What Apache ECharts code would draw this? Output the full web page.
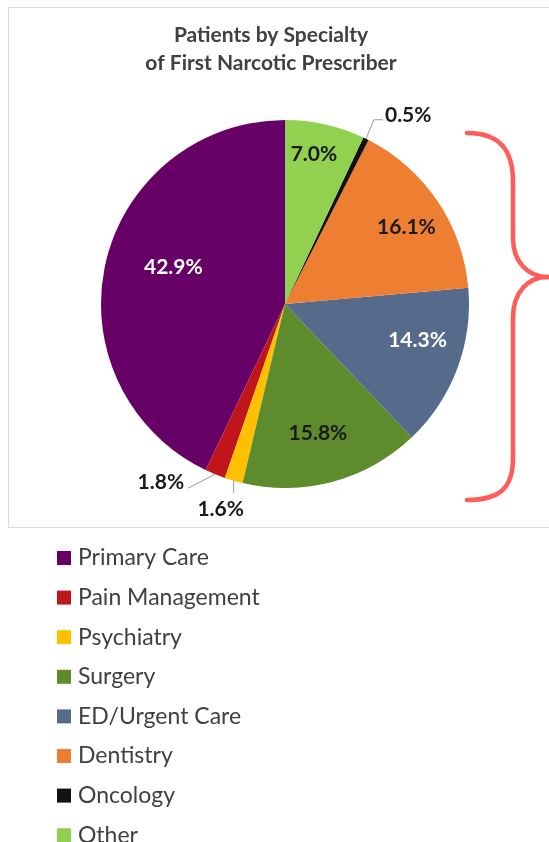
<!DOCTYPE html>
<html>
<head>
<meta charset="utf-8">
<script src="https://cdn.jsdelivr.net/npm/echarts@6/dist/echarts.min.js"></script>
<style>
  html, body { margin: 0; padding: 0; background: #ffffff; }
  #chart { width: 549px; height: 842px; }
</style>
</head>
<body>
<div id="chart"></div>
<script>
// Share of patients (%) by specialty of the first narcotic prescriber
const specialties = ['Primary Care', 'Pain Management', 'Psychiatry', 'Surgery',
                     'ED/Urgent Care', 'Dentistry', 'Oncology', 'Other'];
const shares = [42.9, 1.8, 1.6, 15.8, 14.3, 16.1, 0.5, 7.0];
const sliceColors = ['#660066', '#C0161B', '#FFC000', '#5E8B2B',
                     '#566A8C', '#EE7E32', '#111111', '#92D050'];
const titleLines = ['Patients by Specialty', 'of First Narcotic Prescriber'];

// pie geometry
const CX = 285, CY = 304, R = 184;

// slices laid out counter-clockwise from 12 o'clock; mid angle of each slice
const total = shares.reduce((a, b) => a + b, 0);
const midAngle = [];
let cum = 0;
shares.forEach(v => {
  midAngle.push((90 + (cum + v / 2) / total * 360) * Math.PI / 180);
  cum += v;
});

// thin slices get a callout outside the pie
const callouts = {
  'Pain Management': { line: [[-27, 14]], label: [-31, 8], align: 'right' },
  'Psychiatry':      { line: [[0, 12]], label: [-13, 29], align: 'center' },
  'Oncology':        { line: [[8, -19], [17, -19]], label: [19, -24], align: 'left' }
};
// inside labels: radial position (fraction of radius) plus a small best-fit nudge
const insideLabel = {
  'Primary Care':   { k: 0.6,  dx: -4, dy: -12 },
  'Surgery':        { k: 0.77, dx: -4, dy: -8 },
  'ED/Urgent Care': { k: 0.77, dx: 0,  dy: -14 },
  'Dentistry':      { k: 0.77, dx: 4,  dy: 3 },
  'Other':          { k: 0.77, dx: -2, dy: -11 }
};
const lightLabels = new Set(['Primary Care', 'ED/Urgent Care']);

// curly brace grouping the right-hand slices
const braceStyle = { fill: 'none', stroke: '#FF5B57', lineWidth: 4.5, lineCap: 'round' };
const brace = [
  { type: 'bezierCurve', shape: { x1: 467, y1: 133, cpx1: 500, cpy1: 133, cpx2: 513, cpy2: 150, x2: 513, y2: 182 } },
  { type: 'line',        shape: { x1: 513, y1: 182, x2: 513, y2: 238 } },
  { type: 'bezierCurve', shape: { x1: 513, y1: 238, cpx1: 513, cpy1: 262, cpx2: 528, cpy2: 277, x2: 548, y2: 277 } },
  { type: 'bezierCurve', shape: { x1: 548, y1: 277, cpx1: 528, cpy1: 277, cpx2: 513, cpy2: 292, x2: 513, y2: 318 } },
  { type: 'line',        shape: { x1: 513, y1: 318, x2: 513, y2: 458 } },
  { type: 'bezierCurve', shape: { x1: 513, y1: 458, cpx1: 513, cpy1: 488, cpx2: 500, cpy2: 500, x2: 467, y2: 500 } }
].map(el => Object.assign(el, { z: 10, style: braceStyle }));

const chart = echarts.init(document.getElementById('chart'), null, { renderer: 'canvas' });

chart.setOption({
  animation: false,
  backgroundColor: '#ffffff',
  title: {
    text: titleLines.join('\n'),
    left: 266,
    top: 16,
    textAlign: 'center',
    textStyle: {
      fontFamily: 'Lato',
      fontWeight: 'bold',
      fontSize: 21,
      lineHeight: 28,
      color: '#404040'
    }
  },
  legend: {
    orient: 'vertical',
    left: 57,
    top: 546.5,
    height: 330,
    padding: 0,
    itemWidth: 14,
    itemHeight: 14,
    itemGap: 16.6,
    icon: 'rect',
    selectedMode: false,
    data: specialties,
    textStyle: {
      fontFamily: 'Lato',
      fontSize: 23,
      color: '#404040',
      padding: [0, 0, 0, 2]
    }
  },
  graphic: [
    {
      type: 'rect',
      z: -10,
      shape: { x: 8.5, y: 7.5, width: 580, height: 520 },
      style: { fill: 'none', stroke: '#d9d9d9', lineWidth: 1 }
    }
  ].concat(brace),
  series: [
    {
      type: 'pie',
      center: [CX, CY],
      radius: R,
      startAngle: 90,
      clockwise: false,
      avoidLabelOverlap: false,
      minShowLabelAngle: 0,
      emphasis: { disabled: true },
      itemStyle: { borderWidth: 0 },
      label: {
        show: true,
        fontFamily: 'Lato',
        fontWeight: 'bold',
        fontSize: 21,
        formatter: p => p.value.toFixed(1) + '%'
      },
      labelLine: {
        show: true,
        lineStyle: { color: '#999999', width: 1 }
      },
      labelLayout: function (params) {
        const i = params.dataIndex;
        const name = specialties[i];
        const a = midAngle[i];
        const c = callouts[name];
        if (c) {
          const ex = CX + R * Math.cos(a);
          const ey = CY - R * Math.sin(a);
          const pts = [[ex, ey]].concat(c.line.map(d => [ex + d[0], ey + d[1]]));
          return {
            x: ex + c.label[0],
            y: ey + c.label[1],
            align: c.align,
            verticalAlign: 'middle',
            labelLinePoints: pts
          };
        }
        const s = insideLabel[name];
        return {
          x: CX + s.k * R * Math.cos(a) + s.dx,
          y: CY - s.k * R * Math.sin(a) + s.dy,
          align: 'center',
          verticalAlign: 'middle'
        };
      },
      data: specialties.map((name, i) => ({
        name: name,
        value: shares[i],
        itemStyle: { color: sliceColors[i] },
        label: {
          position: callouts[name] ? 'outside' : 'inside',
          color: lightLabels.has(name) ? '#ffffff' : '#1a1a1a'
        },
        labelLine: { show: !!callouts[name] }
      }))
    }
  ]
});
</script>
</body>
</html>
